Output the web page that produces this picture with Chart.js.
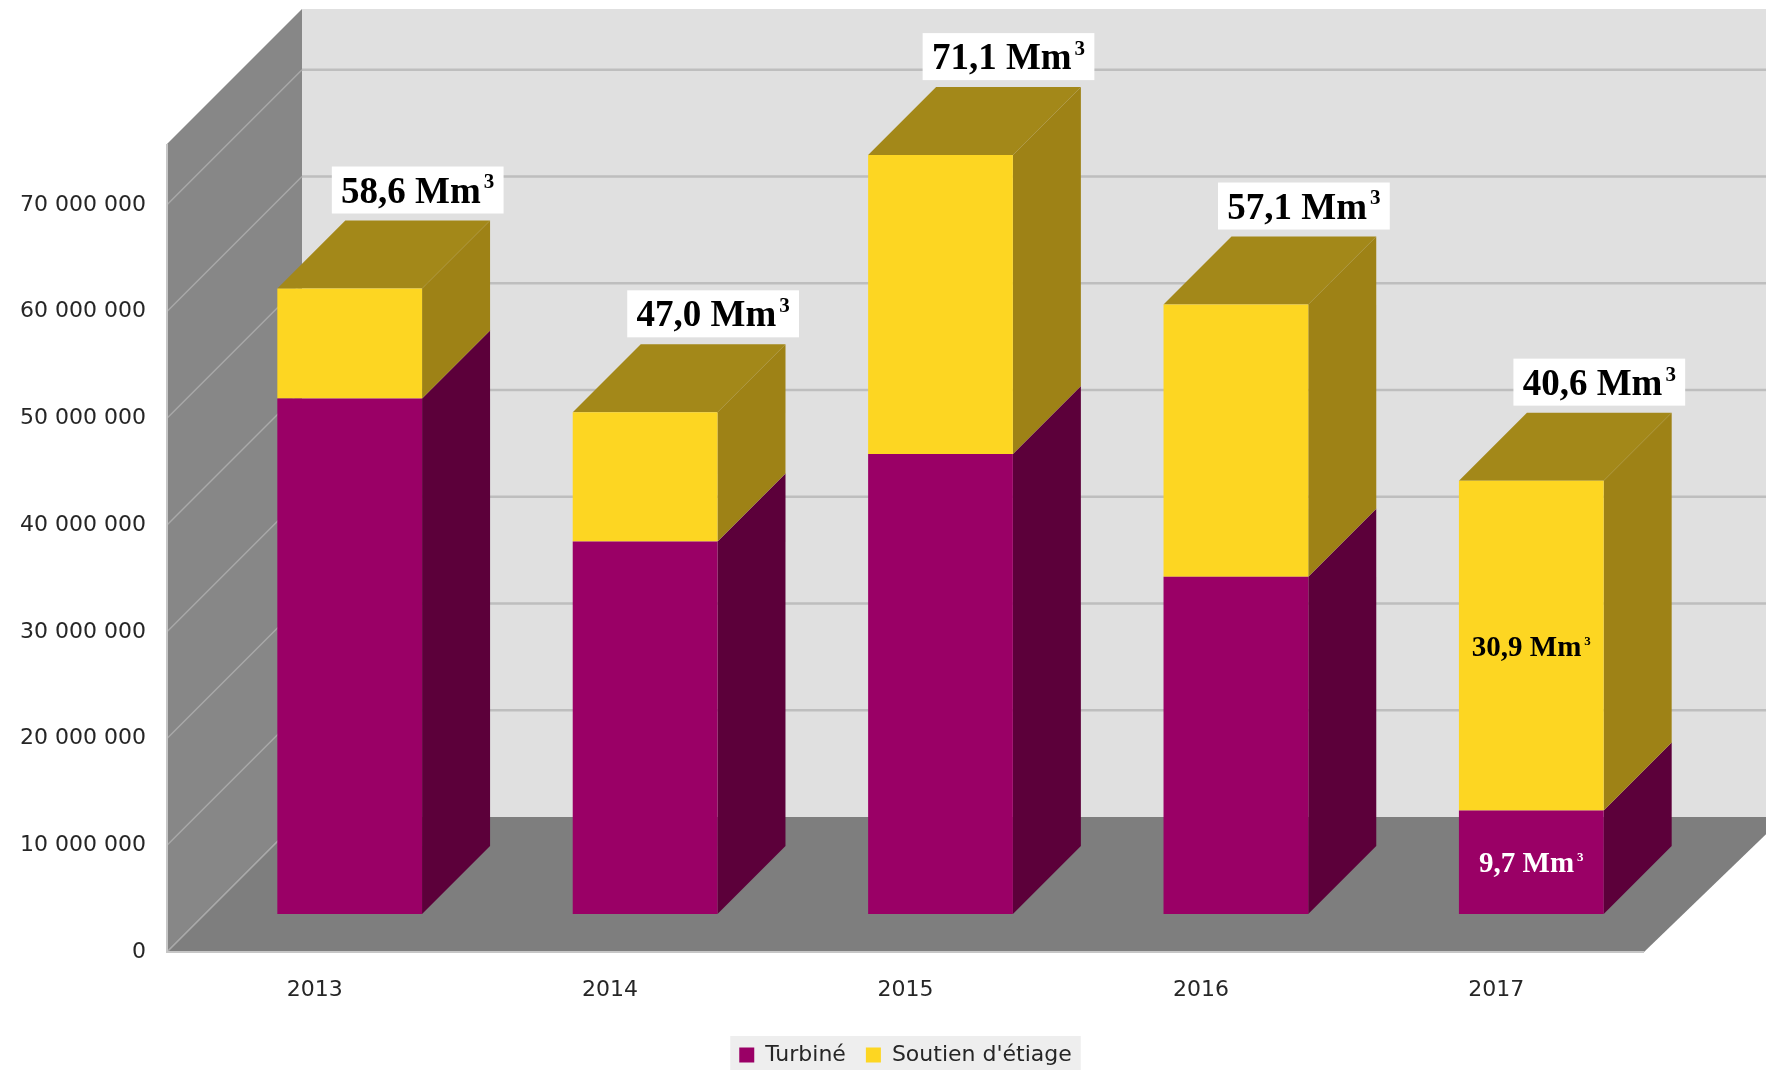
<!DOCTYPE html>
<html>
<head>
<meta charset="utf-8">
<script src="https://cdn.jsdelivr.net/npm/chart.js@4.4.1/dist/chart.umd.min.js"></script>
<style>
  html, body { margin: 0; padding: 0; background: #ffffff; }
</style>
</head>
<body>
<canvas id="volChart" width="1766" height="1070"></canvas>
<script>
// Volumes annuels (m3)
var annees = ['2013', '2014', '2015', '2016', '2017'];
var turbine = [48300000, 34900000, 43100000, 31600000, 9700000];
var soutien = [10300000, 12100000, 28000000, 25500000, 30900000];
var totaux = ['58,6', '47,0', '71,1', '57,1', '40,6'];
var etiqTurbine = ['', '', '', '', '9,7'];
var etiqSoutien = ['', '', '', '', '30,9'];
var graduations = [0, 10000000, 20000000, 30000000, 40000000, 50000000, 60000000, 70000000];

// effet 3D
var OX = 35, OY = -38;   // decalage des barres dans la profondeur
var D = 68;              // epaisseur des barres
var W = 135;             // profondeur des murs

function fmt(v) {
    return String(v).replace(/\B(?=(\d{3})+(?!\d))/g, ' ');
}

function poly(ctx, pts, color) {
    ctx.beginPath();
    ctx.moveTo(pts[0][0], pts[0][1]);
    for (var i = 1; i < pts.length; i++) ctx.lineTo(pts[i][0], pts[i][1]);
    ctx.closePath();
    ctx.fillStyle = color;
    ctx.fill();
}

function texteM3(ctx, cx, base, num, size, supSize, color) {
    var main = num + ' Mm';
    ctx.font = 'bold ' + size + 'px "Liberation Serif"';
    var w1 = ctx.measureText(main).width;
    ctx.font = 'bold ' + supSize + 'px "Liberation Serif"';
    var w2 = ctx.measureText('3').width;
    var tot = w1 + 3 + w2;
    var x0 = cx - tot / 2;
    ctx.fillStyle = color;
    ctx.textAlign = 'left';
    ctx.textBaseline = 'alphabetic';
    ctx.font = 'bold ' + size + 'px "Liberation Serif"';
    ctx.fillText(main, x0, base);
    ctx.font = 'bold ' + supSize + 'px "Liberation Serif"';
    ctx.fillText('3', x0 + w1 + 3, base - size * 0.38);
    return tot;
}

var decor3d = {
    id: 'decor3d',
    beforeDraw: function (chart) {
        var ctx = chart.ctx, a = chart.chartArea, ys = chart.scales.y;
        var L = a.left, R = a.right, T = a.top, B = a.bottom;
        ctx.save();
        // mur du fond
        ctx.fillStyle = '#E0E0E0';
        ctx.fillRect(L + W, T - W, R - L + 5, B - T);
        // mur gauche
        poly(ctx, [[L, T], [L + W, T - W], [L + W, B - W], [L, B]], '#878787');
        // grille
        graduations.forEach(function (v) {
            var p = ys.getPixelForValue(v);
            if (v > 0) {
                ctx.strokeStyle = '#BEBEBE';
                ctx.lineWidth = 2.5;
                ctx.beginPath();
                ctx.moveTo(L + W, p - W);
                ctx.lineTo(R + W + 5, p - W);
                ctx.stroke();
            }
            ctx.strokeStyle = '#A9A9A9';
            ctx.lineWidth = 1.5;
            ctx.beginPath();
            ctx.moveTo(L, p);
            ctx.lineTo(L + W, p - W);
            ctx.stroke();
        });
        // sol
        poly(ctx, [[L, B], [L + W, B - W], [R + W + 5, B - W], [R + W + 5, B - W], [R, B]], '#7E7E7E');
        ctx.strokeStyle = '#A9A9A9';
        ctx.lineWidth = 1.5;
        ctx.beginPath();
        ctx.moveTo(L, B);
        ctx.lineTo(L + W, B - W);
        ctx.stroke();
        ctx.strokeStyle = '#C6C6C6';
        ctx.lineWidth = 2;
        ctx.beginPath();
        ctx.moveTo(L, T);
        ctx.lineTo(L, B);
        ctx.lineTo(R, B);
        ctx.stroke();
        // fond de la legende
        var hb = chart.legend.legendHitBoxes;
        if (hb && hb.length) {
            var x1 = hb[0].left - 9;
            var last = hb[hb.length - 1];
            var x2 = last.left + last.width + 9;
            ctx.fillStyle = '#EEEEEE';
            ctx.fillRect(x1, hb[0].top - 8, x2 - x1, chart.height - hb[0].top + 8);
        }
        ctx.restore();
    },
    beforeDatasetsDraw: function (chart) {
        var ctx = chart.ctx;
        var m0 = chart.getDatasetMeta(0), m1 = chart.getDatasetMeta(1);
        var sides = ['#5C003A', '#9E8216'];
        ctx.save();
        annees.forEach(function (an, i) {
            [m0, m1].forEach(function (meta, d) {
                var el = meta.data[i];
                var l = el.x - el.width / 2 + OX, r = el.x + el.width / 2 + OX;
                var t = el.y + OY, b = el.base + OY;
                poly(ctx, [[r, t], [r + D, t - D], [r + D, b - D], [r, b]], sides[d]);
                if (d === 1) {
                    poly(ctx, [[l, t], [l + D, t - D], [r + D, t - D], [r, t]], '#A38819');
                }
            });
        });
        ctx.restore();
        ctx.save();
        ctx.translate(OX, OY);
    },
    afterDatasetsDraw: function (chart) {
        var ctx = chart.ctx;
        ctx.restore();
        var m0 = chart.getDatasetMeta(0), m1 = chart.getDatasetMeta(1);
        ctx.save();
        annees.forEach(function (an, i) {
            var top = m1.data[i];
            var cx = top.x + OX + D;
            var boxBottom = top.y + OY - D - 7;
            ctx.font = 'bold 37px "Liberation Serif"';
            var w = ctx.measureText(totaux[i] + ' Mm').width + 3 + 11;
            ctx.fillStyle = '#FFFFFF';
            ctx.fillRect(cx - w / 2 - 9, boxBottom - 47, w + 18, 47);
            texteM3(ctx, cx, boxBottom - 11, totaux[i], 37, 21, '#000000');

            var p = m0.data[i];
            if (etiqTurbine[i]) {
                texteM3(ctx, p.x + OX, (p.y + p.base) / 2 + OY + 10, etiqTurbine[i], 29, 13, '#FFFFFF');
            }
            if (etiqSoutien[i]) {
                texteM3(ctx, top.x + OX, (top.y + top.base) / 2 + OY + 10, etiqSoutien[i], 29, 13, '#000000');
            }
        });
        ctx.restore();
    }
};

Chart.defaults.font.family = '"DejaVu Sans"';
Chart.defaults.color = '#262626';

var ctx = document.getElementById('volChart').getContext('2d');
var volChart = new Chart(ctx, {
    type: 'bar',
    data: {
        labels: annees,
        datasets: [{
            label: 'Turbiné',
            data: turbine,
            backgroundColor: '#9A0066',
            barPercentage: 0.49,
            categoryPercentage: 1,
            clip: false
        }, {
            label: 'Soutien d\'étiage',
            data: soutien,
            backgroundColor: '#FDD622',
            barPercentage: 0.49,
            categoryPercentage: 1,
            clip: false
        }]
    },
    options: {
        responsive: false,
        animation: false,
        layout: {
            padding: { top: 144, right: 122, left: 0, bottom: -6 }
        },
        plugins: {
            legend: {
                position: 'bottom',
                fullSize: false,
                labels: {
                    boxWidth: 15,
                    boxHeight: 15,
                    padding: 20,
                    font: { size: 22 }
                }
            },
            tooltip: { enabled: false }
        },
        scales: {
            x: {
                stacked: true,
                grid: { display: false, drawTicks: false },
                border: { display: false },
                ticks: { font: { size: 22 }, padding: 25 },
                afterFit: function (s) { s.height = 72; }
            },
            y: {
                stacked: true,
                min: 0,
                max: 75700000,
                grid: { display: false, drawTicks: false },
                border: { display: false },
                ticks: {
                    font: { size: 22 },
                    padding: 21,
                    callback: function (v) { return fmt(v); }
                },
                afterBuildTicks: function (s) {
                    s.ticks = graduations.map(function (v) { return { value: v }; });
                },
                afterFit: function (s) { s.width = 167; }
            }
        }
    },
    plugins: [decor3d]
});
</script>
</body>
</html>
